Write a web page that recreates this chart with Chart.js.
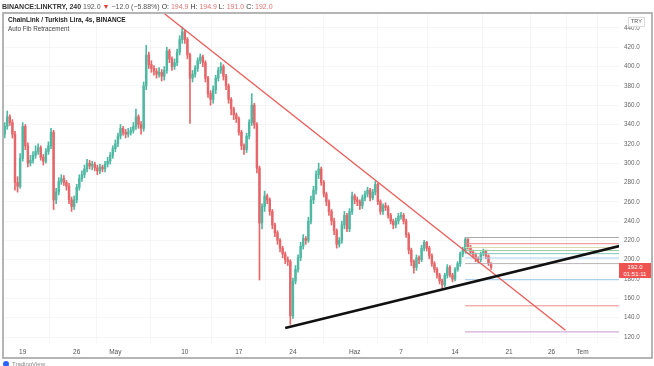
<!DOCTYPE html>
<html><head><meta charset="utf-8">
<script src="https://cdn.jsdelivr.net/npm/chart.js@4/dist/chart.umd.min.js"></script>
<style>
html,body{margin:0;padding:0;background:#fff;}
#wrap{position:relative;width:654px;height:366px;overflow:hidden;font-family:"Liberation Sans",Arial,sans-serif;}
canvas{position:absolute;left:0;top:0;}
.t{position:absolute;white-space:nowrap;line-height:1;}
</style></head><body>
<div id="wrap">
<canvas id="c" width="654" height="366"></canvas>
<div class="t" style="left:2px;top:3px;font-size:7px;color:#333;"><b>BINANCE:LINKTRY, 240</b> <span style="color:#555">192.0</span> <span style="color:#e53935">▼</span> <span style="color:#555">−12.0 (−5.88%)</span> O: <span style="color:#e57373">194.9</span> H: <span style="color:#e57373">194.9</span> L: <span style="color:#e57373">191.0</span> C: <span style="color:#e57373">192.0</span></div>
<div class="t" style="left:8px;top:17px;font-size:6.5px;color:#222;font-weight:bold;">ChainLink / Turkish Lira, 4s, BINANCE</div>
<div class="t" style="left:8px;top:26px;font-size:6.3px;color:#444;">Auto Fib Retracement</div>
<div class="t" style="left:628px;top:17px;font-size:5.5px;color:#555;border:1px solid #ddd;padding:1px 2px;background:#fff;">TRY</div>
<div class="t" style="left:619px;top:263px;width:32px;height:15px;background:#ef5350;color:#fff;font-size:6px;text-align:center;line-height:7px;padding-top:1px;box-sizing:border-box;">192.0<br>01:51:11</div>
<div class="t" style="left:3px;top:361px;width:6px;height:6px;border-radius:3px;background:#2962ff;"></div>
<div class="t" style="left:12px;top:361px;font-size:6px;color:#888;">TradingView</div>
</div>
<script>
// ---- DATA ----
const startDay = -2.33;            // first candle, in days after 19 Apr (8h candles)
const candlesPerDay = 3;
const opens = [330,338,348,342,330,280,276,305,338,318, 300,303,308,312,316,306,302,312,318,332, 262,270,281,284,280,276,262,255,262,275, 284,288,294,300,297,299,295,292,296,294, 299,302,308,315,320,328,336,332,330,332, 334,338,348,340,336,380,412,402,398,395, 392,394,390,396,416,408,400,404,415,428, 436,428,412,388,392,398,406,410,404,388, 372,366,376,388,396,400,390,380,366,356, 350,346,332,318,314,328,342,360,340,295, 238,255,266,262,250,236,228,220,212,206, 200,198,142,178,190,202,214,222,220,240, 262,272,288,294,280,268,260,250,240,230, 216,220,236,246,232,250,266,262,260,256, 264,268,272,264,270,278,260,250,256,254, 246,240,236,240,245,246,240,226,210,198, 192,202,200,212,218,212,204,196,190,184, 178,174,184,192,184,180,190,196,206,210, 221,213,208,205,201,200,206,209,204,196];
const closes = [338,348,342,330,280,276,305,338,318,300, 303,308,312,316,306,302,312,318,332,262, 270,281,284,280,276,262,255,262,275,284, 288,294,300,297,299,295,292,296,294,299, 302,308,315,320,328,336,332,330,332,334, 338,348,340,336,380,412,402,398,395,392, 394,390,396,416,408,400,404,415,428,436, 428,412,388,392,398,406,410,404,388,372, 366,376,388,396,400,390,380,366,356,350, 346,332,318,314,328,342,360,340,295,238, 255,266,262,250,236,228,220,212,206,200, 198,142,178,190,202,214,222,220,240,262, 272,288,294,280,268,260,250,240,230,216, 220,236,246,232,250,266,262,260,256,264, 268,272,264,270,278,260,250,256,254,246, 240,236,240,245,246,240,226,210,198,192, 202,200,212,218,212,204,196,190,184,178, 174,184,192,184,180,190,196,206,210,221, 213,208,205,201,200,206,209,204,196,192];
const highs = [342,354,350,345,333,286,310,342,340,321, 308,312,318,320,318,309,315,322,336,334, 274,285,288,287,282,279,265,266,278,288, 292,298,304,303,302,301,298,299,298,302, 306,311,318,324,331,340,338,335,336,337, 342,356,350,343,384,422,415,406,401,398, 399,397,400,420,418,410,408,418,432,441, 438,430,414,396,401,409,413,412,406,390, 375,380,391,399,404,402,392,382,368,358, 352,348,334,320,331,345,372,362,342,297, 258,271,268,264,252,238,230,222,214,208, 203,200,181,194,205,218,226,224,244,266, 276,292,300,296,282,270,262,252,243,232, 223,240,250,248,253,270,268,265,262,267, 271,275,274,273,281,279,262,258,259,256, 248,242,243,248,249,248,242,228,212,200, 205,204,215,220,219,214,206,198,192,186, 180,186,195,194,186,192,198,208,213,223, 222,215,210,207,203,208,211,210,205,197];
const lows = [326,335,339,326,272,270,274,302,314,296, 297,300,305,309,303,298,300,309,315,252, 258,267,278,277,272,258,250,252,259,272, 281,285,291,294,293,292,288,289,291,291, 296,299,305,312,317,325,329,326,327,329, 331,335,336,330,333,376,398,394,391,388, 389,385,386,393,404,396,397,401,412,424, 424,408,341,384,389,395,403,400,384,368, 360,362,372,385,393,386,376,362,350,345, 342,329,314,309,311,325,339,336,290,179, 232,250,258,246,232,224,216,208,202,196, 194,133,139,175,187,199,211,216,218,237, 258,268,284,277,265,256,246,236,226,212, 213,217,232,229,229,247,258,256,252,253, 261,265,261,262,267,257,247,247,251,243, 237,232,233,237,242,237,223,206,194,186, 189,196,198,209,209,201,193,187,181,175, 171,172,181,182,177,178,188,193,203,207, 211,206,202,198,197,198,204,201,194,190];
// x-axis tick labels (Turkish month names) and their day offsets from 19 Apr
const tickLabels = ['19','26','May','10','17','24','Haz','7','14','21','26','Tem'];
const tickDays   = [0, 7, 12, 21, 28, 35, 43, 49, 56, 63, 68.5, 72.5];
const yTicks = [120,140,160,180,200,220,240,260,280,300,320,340,360,380,400,420,440];
// trend lines (day, price)
const downTrendDays = [18.0, 70.3];
const downTrendPrices = [457, 127];
const upTrendDays = [34.0, 77.3];
const upTrendPrices = [129.3, 214.3];
// auto fib retracement levels
const fibStartDay = 57.3;
const fibLevels = [223, 216.6, 212.7, 209.5, 206.3, 201.8, 196, 179.3, 152.3, 125.3];
const fibColors = ['#a9a9a9','#ec8a8a','#d6dcae','#9acb9d','#86c4b6','#a9cfea','#b9b3bb','#97c6ea','#ee8c8c','#c99ac9'];

const X_MIN = -2.42, X_MAX = 77.24, Y_MIN = 113.8, Y_MAX = 454.4;
const UP = '#4fb8a3', DOWN = '#e5676a';

const dayOf = i => startDay + i / candlesPerDay;
const wickData = highs.map((h, i) => ({x: dayOf(i), y: [lows[i], h]}));
const bodyData = opens.map((o, i) => ({x: dayOf(i), y: [o, closes[i]]}));
const cols = opens.map((o, i) => closes[i] >= o ? UP : DOWN);

const datasets = [
  {type:'bar', data: wickData, backgroundColor: cols, barThickness: 1, grouped:false, borderWidth:0, order:5},
  {type:'bar', data: bodyData, backgroundColor: cols, barThickness: 1.8, grouped:false, borderWidth:0, minBarLength:1, order:4},
];
fibLevels.forEach((v, k) => datasets.push({type:'line', data:[{x:fibStartDay,y:v},{x:X_MAX,y:v}], borderColor: fibColors[k], borderWidth:1, pointRadius:0, order:3}));
datasets.push({type:'line', data: downTrendDays.map((d,k)=>({x:d,y:downTrendPrices[k]})), borderColor:'#ec5b57', borderWidth:1.3, pointRadius:0, order:1});
datasets.push({type:'line', data: upTrendDays.map((d,k)=>({x:d,y:upTrendPrices[k]})), borderColor:'#111', borderWidth:2.6, pointRadius:0, order:0});

const frame = {
  id:'frame',
  afterDraw(chart){
    const c = chart.ctx;
    c.save();
    c.strokeStyle = '#a3a3a3';
    c.lineWidth = 1.6;
    c.strokeRect(3, 13, 649, 345);
    c.restore();
  }
};

new Chart(document.getElementById('c'), {
  type: 'bar',
  data: {datasets},
  plugins: [frame],
  options: {
    responsive:false, animation:false,
    layout:{padding:{left:4, top:14, right:0, bottom:8}},
    plugins:{legend:{display:false}, tooltip:{enabled:false}},
    scales:{
      x:{type:'linear', min:X_MIN, max:X_MAX, offset:false,
        grid:{display:true, color:'rgba(0,0,0,0.035)', drawTicks:false},
        border:{display:false},
        afterBuildTicks(s){ s.ticks = tickDays.map(v=>({value:v})); },
        afterFit(s){ s.height = 15; },
        ticks:{autoSkip:false, maxRotation:0, padding:5, color:'#555', font:{size:6.5, family:'Liberation Sans'},
          callback:(v)=>{ const k = tickDays.indexOf(v); return k>=0 ? tickLabels[k] : ''; }}
      },
      y:{position:'right', min:Y_MIN, max:Y_MAX,
        grid:{display:true, color:'rgba(0,0,0,0.035)', drawTicks:false},
        border:{display:false},
        afterBuildTicks(s){ s.ticks = yTicks.map(v=>({value:v})); },
        afterFit(s){ s.width = 35; },
        ticks:{padding:5, color:'#666', crossAlign:'near', font:{size:6.3, family:'Liberation Sans'},
          callback:(v)=>Number(v).toFixed(1)}
      }
    }
  }
});
</script>
</body></html>
